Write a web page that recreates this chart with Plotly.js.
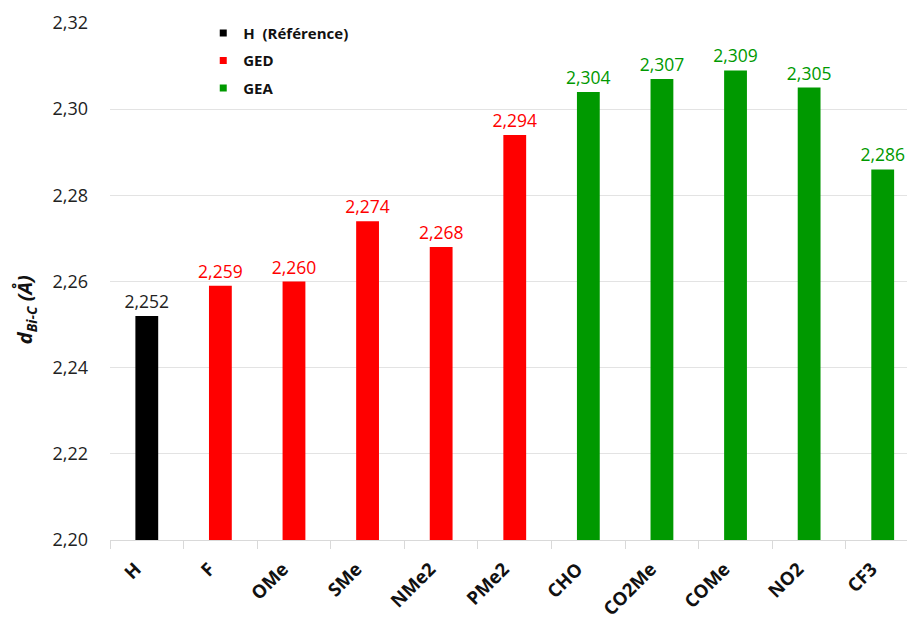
<!DOCTYPE html>
<html>
<head>
<meta charset="utf-8">
<script src="https://cdn.plot.ly/plotly-3.0.1.min.js"></script>
<style>html,body{margin:0;padding:0;background:#fff;}#chart{width:907px;height:619px;}</style>
</head>
<body>
<div id="chart"></div>
<script>
const categories = ["H", "F", "OMe", "SMe", "NMe2", "PMe2", "CHO", "CO2Me", "COMe", "NO2", "CF3"];
const refCats = ["H"];
const refValues = [2.252];
const gedCats = ["F", "OMe", "SMe", "NMe2", "PMe2"];
const gedValues = [2.259, 2.260, 2.274, 2.268, 2.294];
const geaCats = ["CHO", "CO2Me", "COMe", "NO2", "CF3"];
const geaValues = [2.304, 2.307, 2.309, 2.305, 2.286];
const seriesNames = ["H  (Référence)", "GED", "GEA"];
const yTicks = [2.20, 2.22, 2.24, 2.26, 2.28, 2.30, 2.32];
const yTitle = "<b><i>d<sub>Bi-C</sub> (Å)</i></b>";

const FONT = "Open Sans, Lato, sans-serif";
function mk(x, y, color, textColor) {
  return {
    type: "bar", x: x, y: y,
    marker: {color: color},
    width: 0.31,
    showlegend: false,
    texttemplate: "%{y:.3f}",
    textposition: "outside",
    constraintext: "none",
    textfont: {family: FONT, size: 17.5, color: textColor},
    cliponaxis: false,
    hoverinfo: "skip"
  };
}
function leg(name, color) {
  return {
    type: "scatter", mode: "markers", name: name,
    x: [null], y: [null],
    marker: {symbol: "square", size: 7, color: color},
    hoverinfo: "skip", legendgroup: name
  };
}
const data = [
  mk(refCats, refValues, "#000000", "#222222"),
  mk(gedCats, gedValues, "#ff0000", "#ff0000"),
  mk(geaCats, geaValues, "#009900", "#009900"),
  leg(seriesNames[0], "#000000"),
  leg(seriesNames[1], "#ff0000"),
  leg(seriesNames[2], "#009900")
];
const layout = {
  width: 907, height: 619,
  margin: {l: 110, r: 0, t: 23, b: 79},
  separators: ", ",
  paper_bgcolor: "#ffffff", plot_bgcolor: "#ffffff",
  barmode: "overlay",
  font: {family: FONT, color: "#222222"},
  showlegend: true,
  legend: {
    x: 0.117, y: 1.012, xanchor: "left", yanchor: "top",
    bgcolor: "rgba(0,0,0,0)",
    font: {family: FONT, size: 15, color: "#111111", weight: "bold"},
    tracegroupgap: 5,
    itemwidth: 30
  },
  xaxis: {
    type: "category",
    categoryorder: "array", categoryarray: categories,
    range: [-0.5, 10.33],
    tickangle: -45,
    tickfont: {family: FONT, size: 18.5, color: "#111111", weight: "bold"},
    ticks: "outside", tickson: "boundaries", ticklen: 8, tickcolor: "#d9d9d9",
    ticklabelshift: -11, ticklabelstandoff: 10,
    showline: true, linecolor: "#d9d9d9", linewidth: 1,
    showgrid: false, zeroline: false
  },
  yaxis: {
    range: [2.20, 2.32],
    tickvals: yTicks,
    tickformat: ".2f",
    tickfont: {family: FONT, size: 18, color: "#222222"},
    gridcolor: "#e3e3e3", gridwidth: 1,
    zeroline: false, showline: false,
    ticks: "", ticklabelstandoff: 21
  },
  annotations: [{
    text: yTitle, textangle: -90, showarrow: false,
    xref: "paper", yref: "paper",
    x: -0.105, y: 0.445, xanchor: "center", yanchor: "middle",
    font: {family: FONT, size: 20, color: "#111111"}
  }]
};
Plotly.newPlot("chart", data, layout, {displayModeBar: false, staticPlot: true});
</script>
</body>
</html>
